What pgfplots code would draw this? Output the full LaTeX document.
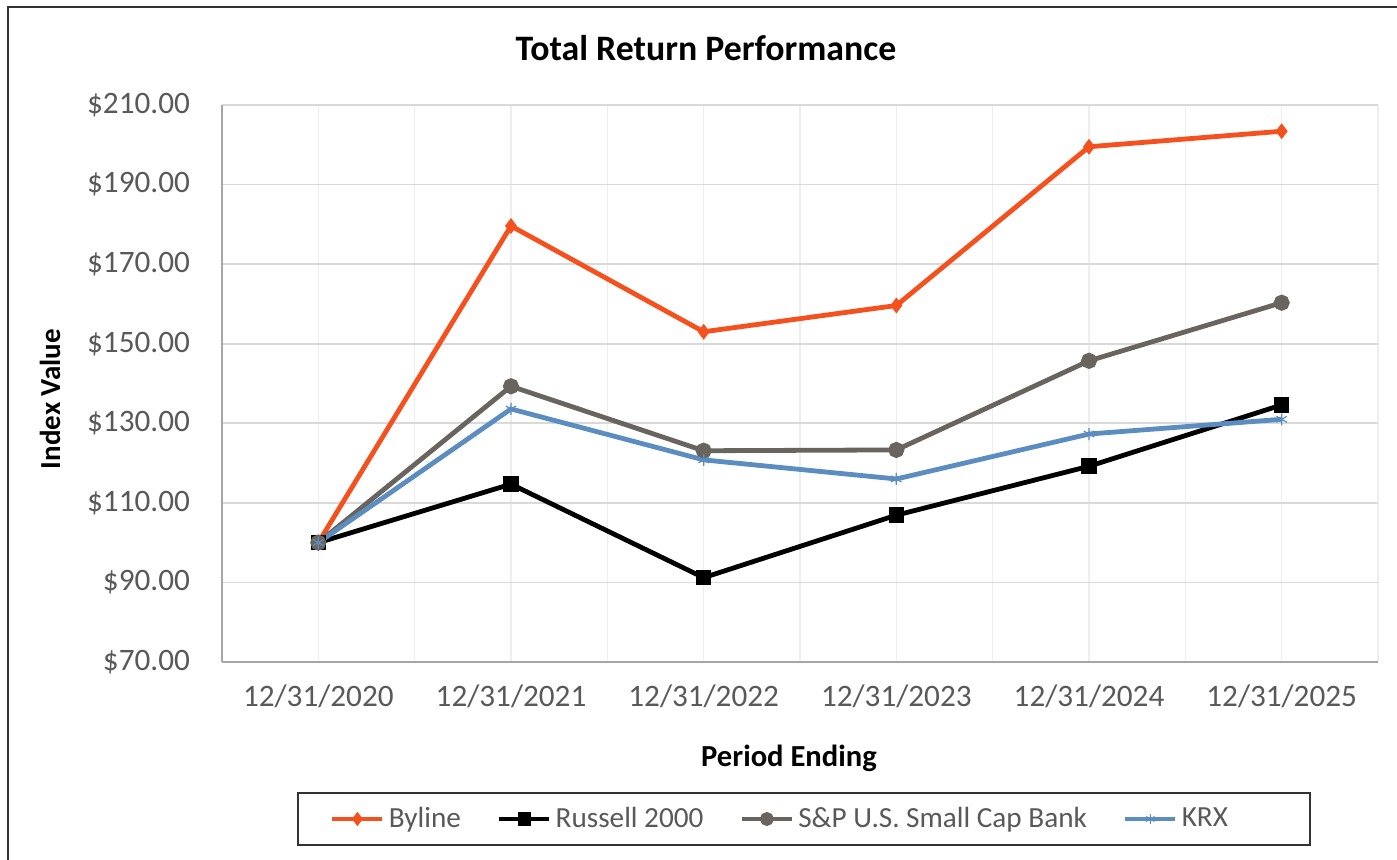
\documentclass[border=0pt]{standalone}
\usepackage{fontspec}
\setmainfont{Carlito}
\usepackage{pgfplots}
\pgfplotsset{compat=1.18}
\definecolor{byline}{HTML}{F4511E}
\definecolor{spbank}{HTML}{69655E}
\definecolor{krx}{HTML}{5B8DC0}
\definecolor{ticktext}{HTML}{595959}
\definecolor{gridh}{HTML}{D9D9D9}
\definecolor{gridv}{HTML}{EEEEEE}
\definecolor{axisgray}{HTML}{A6A6A6}

% 1 px of the reference = 0.5pt; axis box lower left at px (222,662)
\begin{document}
\begin{tikzpicture}
\useasboundingbox (-111pt,-99pt) rectangle (587.5pt,331pt);
\fill[white] (-111pt,-99pt) rectangle (587.5pt,331pt);
\draw[black!80, line width=1pt] (-107pt,-99pt) -- (-107pt,327.5pt) -- (587.5pt,327.5pt);

\begin{axis}[
  scale only axis,
  width=578pt, height=278.5pt,
  xmin=-0.5, xmax=5.5,
  ymin=70, ymax=210,
  xtick={0,...,5},
  minor xtick={-0.5,0.5,...,5.5},
  xticklabels={12/31/2020,12/31/2021,12/31/2022,12/31/2023,12/31/2024,12/31/2025},
  ytick={70,90,...,210},
  yticklabel={\$\pgfmathprintnumber[fixed,fixed zerofill,precision=2,assume math mode=true]{\tick}},
  axis x line*=bottom, axis y line*=left,
  axis line style={draw=axisgray, line width=1pt, -},
  tick style={draw=none},
  xmajorgrids, xminorgrids, ymajorgrids,
  x grid style={draw=gridv, line width=0.7pt},
  minor x grid style={draw=gridv, line width=0.7pt},
  y grid style={draw=gridh, line width=0.8pt},
  ticklabel style={font=\fontsize{15.6}{18}\selectfont, text=ticktext},
  yticklabel style={xshift=-12.5pt},
  xticklabel style={yshift=-8pt},
  clip=false,
  legend columns=4,
  legend style={draw=none, fill=none, at={(279.5pt,-78.5pt)}, anchor=center,
    font=\fontsize{14.6}{16}\selectfont, text=ticktext,
    /tikz/every even column/.append style={column sep=16pt}},
  legend cell align=left,
  legend image code/.code={\draw[line width=2.4pt, mark repeat=2, mark phase=2, /tikz/every mark/.append style={scale=0.8}] plot coordinates {(0pt,0pt) (12.5pt,0pt) (25pt,0pt)};},
]
\addplot[byline, line width=2.4pt, mark=diamond*, mark size=2pt] coordinates {
  (0,100) (1,179.6) (2,153.0) (3,159.6) (4,199.5) (5,203.4)
};
\addlegendentry{Byline}
\addplot[black, line width=2.4pt, mark=square*, mark size=2.7pt] coordinates {
  (0,100) (1,114.7) (2,91.2) (3,106.9) (4,119.2) (5,134.6)
};
\addlegendentry{Russell 2000}
\addplot[spbank, line width=2.4pt, mark=*, mark size=2.8pt] coordinates {
  (0,100) (1,139.3) (2,123.1) (3,123.3) (4,145.7) (5,160.3)
};
\addlegendentry{S\&P U.S. Small Cap Bank}
\addplot[krx, line width=2.4pt, mark=asterisk, mark size=3pt, mark options={line width=0.6pt}] coordinates {
  (0,100) (1,133.6) (2,120.8) (3,116.0) (4,127.3) (5,131.0)
};
\addlegendentry{KRX}
\end{axis}

\draw[black!80, line width=0.9pt] (38pt,-65.5pt) rectangle (544pt,-91.5pt);
\node[font=\bfseries\fontsize{17.9}{20}\selectfont] at (242pt,307pt) {Total Return Performance};
\node[font=\bfseries\fontsize{14.5}{17}\selectfont, rotate=90] at (-86pt,131.5pt) {Index Value};
\node[font=\bfseries\fontsize{15.3}{17}\selectfont] at (283.5pt,-48pt) {Period Ending};
\end{tikzpicture}
\end{document}
